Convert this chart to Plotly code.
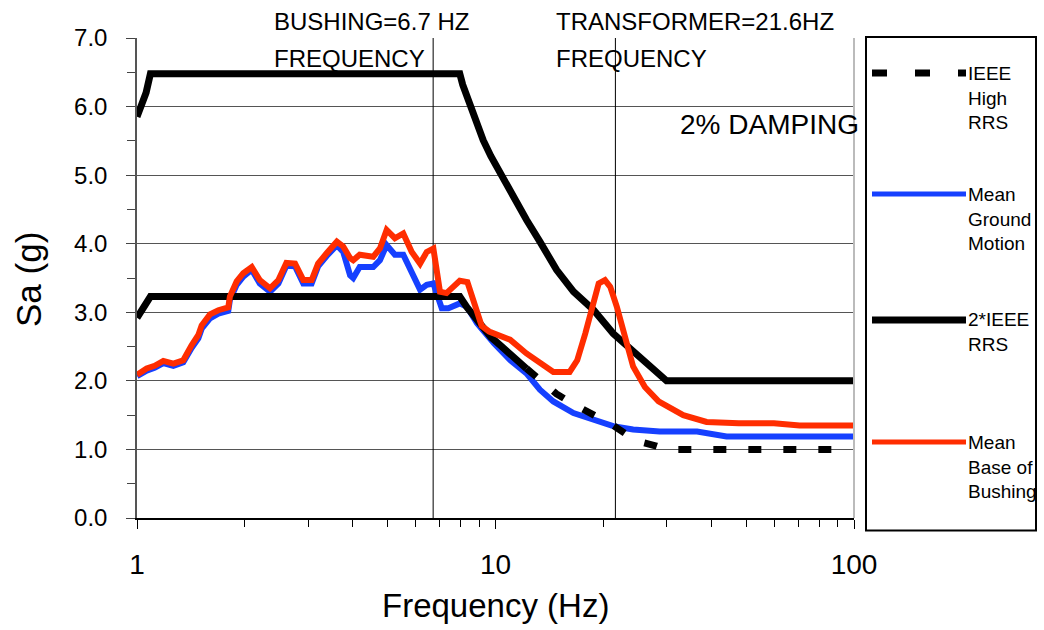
import plotly.graph_objects as go

# ---------------- data ----------------
red_f = [1.0, 1.064, 1.12, 1.184, 1.263, 1.346, 1.42, 1.483, 1.515, 1.598, 1.686, 1.797,
         1.816, 1.897, 1.979, 2.09, 2.20, 2.35, 2.48, 2.61, 2.76, 2.91, 3.07, 3.20, 3.38,
         3.61, 3.76, 3.93, 4.01, 4.18, 4.56, 4.76, 4.97, 5.24, 5.53, 5.84, 6.16, 6.43,
         6.71, 7.00, 7.30, 7.95, 8.35, 8.7, 9.15, 9.6, 10.1, 10.98, 12.2, 13.6, 14.5,
         16.1, 16.9, 17.8, 18.6, 19.4, 20.2, 20.9, 21.8, 23.0, 24.2, 26.1, 28.5, 33.4,
         38.8, 47.7, 59.8, 70.5, 100]
red_v = [2.09, 2.18, 2.22, 2.29, 2.25, 2.30, 2.52, 2.67, 2.81, 2.97, 3.03, 3.07,
         3.23, 3.45, 3.57, 3.66, 3.47, 3.35, 3.47, 3.72, 3.71, 3.47, 3.47, 3.71, 3.86,
         4.03, 3.96, 3.79, 3.76, 3.84, 3.81, 3.93, 4.20, 4.08, 4.15, 3.88, 3.71, 3.88,
         3.93, 3.30, 3.28, 3.46, 3.44, 3.13, 2.80, 2.72, 2.67, 2.60, 2.40, 2.23, 2.13,
         2.13, 2.30, 2.69, 3.03, 3.42, 3.47, 3.37, 3.08, 2.64, 2.21, 1.91, 1.70, 1.50,
         1.40, 1.38, 1.38, 1.35, 1.35]

blue_f = [1.0, 1.064, 1.12, 1.184, 1.263, 1.346, 1.42, 1.483, 1.515, 1.598, 1.686, 1.797,
          1.816, 1.897, 1.979, 2.09, 2.20, 2.35, 2.48, 2.61, 2.76, 2.91, 3.07, 3.20, 3.38,
          3.61, 3.76, 3.93, 4.01, 4.18, 4.56, 4.76, 4.97, 5.24, 5.53, 5.84, 6.16, 6.43,
          6.71, 7.08, 7.39, 7.95, 8.32, 8.88, 9.55, 9.9, 11.0, 12.2, 13.3, 14.5, 16.5,
          18.7, 21.3, 24.2, 28.7, 36.5, 44.1, 59.8, 100]
blue_v = [2.07, 2.15, 2.19, 2.26, 2.22, 2.27, 2.48, 2.62, 2.76, 2.91, 2.98, 3.02,
          3.18, 3.40, 3.52, 3.62, 3.42, 3.30, 3.42, 3.68, 3.67, 3.42, 3.42, 3.67, 3.82,
          3.98, 3.88, 3.54, 3.50, 3.66, 3.66, 3.76, 3.98, 3.84, 3.84, 3.57, 3.33, 3.40,
          3.42, 3.06, 3.06, 3.13, 3.08, 2.84, 2.64, 2.55, 2.30, 2.11, 1.87, 1.70, 1.53,
          1.43, 1.34, 1.29, 1.26, 1.26, 1.19, 1.19, 1.19]

ieee_f = [1.0, 1.03, 1.06, 1.09, 7.95, 8.1, 8.33, 8.7, 9.24, 9.7, 10.3, 11.2, 12.2, 13.3,
          14.2, 14.8, 16.5, 18.8, 21.3, 23.2, 25.8, 28.1, 30.0, 100]
ieee_v = [2.92, 3.02, 3.10, 3.23, 3.23, 3.15, 3.07, 2.95, 2.76, 2.64, 2.52, 2.34, 2.18, 2.01,
          1.88, 1.81, 1.66, 1.51, 1.35, 1.22, 1.10, 1.05, 1.00, 1.00]

ieee2_f = [1.0, 1.03, 1.06, 1.09, 7.95, 8.1, 8.33, 8.7, 9.24, 9.7, 10.3, 11.2, 12.2, 13.3,
           14.2, 14.8, 16.5, 18.8, 21.3, 23.2, 25.8, 28.1, 30.0, 100]
ieee2_v = [5.85, 6.05, 6.20, 6.48, 6.48, 6.32, 6.14, 5.90, 5.51, 5.28, 5.03, 4.68, 4.35, 4.03,
           3.78, 3.62, 3.30, 3.03, 2.69, 2.52, 2.30, 2.14, 2.00, 2.00]

marker_freqs = [6.7, 21.6]
y_ticks = [0, 1, 2, 3, 4, 5, 6, 7]
x_ticks = [1, 10, 100]

legend_names = ["IEEE<br>High<br>RRS", "Mean<br>Ground<br>Motion", "2*IEEE<br>RRS",
                "Mean<br>Base of<br>Bushing"]

# ---------------- figure ----------------
RED = "#ff2d00"
BLUE = "#1640ff"
FONT = "Liberation Sans, Arial, Helvetica, sans-serif"

# pixel -> paper helpers (plot area x: 137..854, y: 38..518)
L, R, T, B = 137, 854, 38, 518
def px(x):
    return (x - L) / (R - L)
def py(y):
    return (B - y) / (B - T)

fig = go.Figure()

# vertical frequency marker lines
for f in marker_freqs:
    fig.add_trace(go.Scatter(x=[f, f], y=[0, 7], mode="lines",
                             line=dict(color="black", width=1), hoverinfo="skip"))

split = 13  # IEEE curve drawn solid up to this index, dashed afterwards
fig.add_trace(go.Scatter(x=blue_f, y=blue_v, mode="lines", name="Mean Ground Motion",
                         line=dict(color=BLUE, width=6)))
fig.add_trace(go.Scatter(x=ieee_f[:split], y=ieee_v[:split], mode="lines", name="IEEE High RRS",
                         line=dict(color="black", width=7)))
fig.add_trace(go.Scatter(x=ieee_f[split - 1:], y=ieee_v[split - 1:], mode="lines",
                         line=dict(color="black", width=7, dash="13px,22px")))
fig.add_trace(go.Scatter(x=ieee2_f, y=ieee2_v, mode="lines", name="2*IEEE RRS",
                         line=dict(color="black", width=7)))
fig.add_trace(go.Scatter(x=red_f, y=red_v, mode="lines", name="Mean Base of Bushing",
                         line=dict(color=RED, width=6)))

shapes = []
# right border of plot area
shapes.append(dict(type="line", xref="paper", yref="paper", x0=1, x1=1, y0=0, y1=1,
                   line=dict(color="#bbbbbb", width=2)))
# legend box
shapes.append(dict(type="rect", xref="paper", yref="paper", x0=px(866), x1=px(1036),
                   y0=py(530.5), y1=py(37), line=dict(color="black", width=2),
                   fillcolor="rgba(0,0,0,0)"))
leg_y = [73, 194, 320, 442]
leg_style = [dict(color="black", width=7, dash="15px,28px"),
             dict(color=BLUE, width=5),
             dict(color="black", width=7),
             dict(color=RED, width=5)]
for yy, st in zip(leg_y, leg_style):
    shapes.append(dict(type="line", xref="paper", yref="paper", x0=px(872), x1=px(966),
                       y0=py(yy), y1=py(yy), line=st))

annotations = []
lh = 24.7
nlines = [3, 3, 2, 3]
for yy, name, n in zip(leg_y, legend_names, nlines):
    annotations.append(dict(xref="paper", yref="paper", x=px(966), y=py(yy + (n - 1) * lh / 2),
                            xanchor="left", yanchor="middle", align="left", showarrow=False,
                            text=name, font=dict(family=FONT, size=19, color="black")))

top_txt = [("BUSHING=6.7 HZ", 272, 21), ("FREQUENCY", 272, 58.5),
           ("TRANSFORMER=21.6HZ", 554, 21), ("FREQUENCY", 554, 58.5)]
for t, xx, yy in top_txt:
    annotations.append(dict(xref="paper", yref="paper", x=px(xx), y=py(yy), xanchor="left",
                            yanchor="middle", showarrow=False, text=t,
                            font=dict(family=FONT, size=24, color="black")))
annotations.append(dict(xref="paper", yref="paper", x=px(678), y=py(124), xanchor="left",
                        yanchor="middle", showarrow=False, text="2% DAMPING",
                        font=dict(family=FONT, size=28, color="black")))
# axis titles
annotations.append(dict(xref="paper", yref="paper", x=px(495), y=py(605), xanchor="center",
                        yanchor="middle", showarrow=False, text="Frequency (Hz)",
                        font=dict(family=FONT, size=33, color="black")))
annotations.append(dict(xref="paper", yref="paper", x=px(28), y=py(280), xanchor="center",
                        yanchor="middle", showarrow=False, text="Sa (g)", textangle=-90,
                        font=dict(family=FONT, size=35, color="black")))

fig.update_layout(
    width=1044, height=630,
    margin=dict(l=L, r=1044 - R, t=T, b=630 - B, pad=0),
    paper_bgcolor="white", plot_bgcolor="white",
    showlegend=False,
    shapes=shapes, annotations=annotations,
    font=dict(family=FONT, color="black"),
)
fig.update_xaxes(type="log", range=[0, 2], tickvals=x_ticks, ticktext=[str(v) for v in x_ticks],
                 ticks="outside", ticklen=9, tickwidth=1, tickcolor="black",
                 showgrid=False, zeroline=False, showline=True, linecolor="black", linewidth=1.5,
                 tickfont=dict(family=FONT, size=28, color="black"), ticklabelstandoff=12,
                 minor=dict(tickvals=[2, 3, 4, 5, 6, 7, 8, 9, 20, 30, 40, 50, 60, 70, 80, 90],
                            ticks="outside", ticklen=7, tickcolor="black", showgrid=False))
fig.update_yaxes(range=[0, 7], tickvals=y_ticks, ticktext=[f"{v:.1f}" for v in y_ticks],
                 ticks="outside", ticklen=9, tickwidth=1, tickcolor="#444",
                 showgrid=True, gridcolor="#555555", gridwidth=1.2, zeroline=False,
                 showline=True, linecolor="#555", linewidth=1.5,
                 tickfont=dict(family=FONT, size=24, color="black"), ticklabelstandoff=14,
                 minor=dict(dtick=0.5, ticks="outside", ticklen=8, tickcolor="#444", showgrid=False))

fig.write_html("out.html", config={"displayModeBar": False},
               post_script="document.body.style.margin='0';")
